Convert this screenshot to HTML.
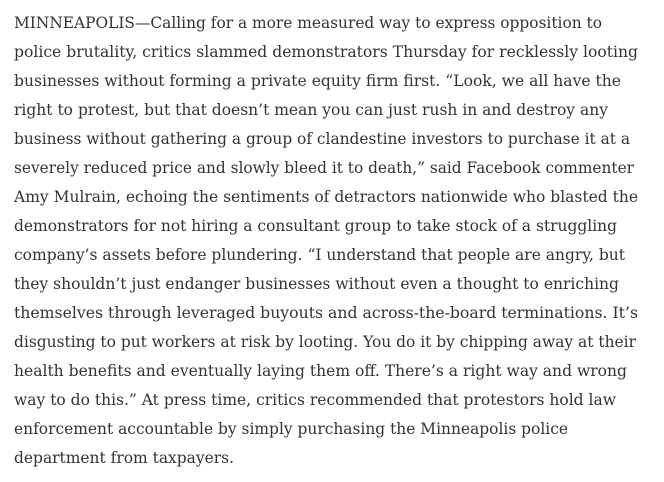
<!DOCTYPE html>
<html>
<head>
<meta charset="utf-8">
<style>
html,body{margin:0;padding:0;background:#fff;width:664px;height:482px;overflow:hidden}
svg{display:block}
text{font-family:"DejaVu Serif","Liberation Serif",serif;font-size:16px;fill:#333}
</style>
</head>
<body>
<svg width="664" height="482">
<text x="14" y="28" textLength="588" lengthAdjust="spacingAndGlyphs">MINNEAPOLIS—Calling for a more measured way to express opposition to</text>
<text x="14" y="57" textLength="624" lengthAdjust="spacingAndGlyphs">police brutality, critics slammed demonstrators Thursday for recklessly looting</text>
<text x="14" y="86" textLength="607" lengthAdjust="spacingAndGlyphs">businesses without forming a private equity firm first. “Look, we all have the</text>
<text x="14" y="115" textLength="594" lengthAdjust="spacingAndGlyphs">right to protest, but that doesn’t mean you can just rush in and destroy any</text>
<text x="14" y="144" textLength="616" lengthAdjust="spacingAndGlyphs">business without gathering a group of clandestine investors to purchase it at a</text>
<text x="14" y="173" textLength="620" lengthAdjust="spacingAndGlyphs">severely reduced price and slowly bleed it to death,” said Facebook commenter</text>
<text x="14" y="202" textLength="624" lengthAdjust="spacingAndGlyphs">Amy Mulrain, echoing the sentiments of detractors nationwide who blasted the</text>
<text x="14" y="231" textLength="603" lengthAdjust="spacingAndGlyphs">demonstrators for not hiring a consultant group to take stock of a struggling</text>
<text x="14" y="260" textLength="611" lengthAdjust="spacingAndGlyphs">company’s assets before plundering. “I understand that people are angry, but</text>
<text x="14" y="289" textLength="605" lengthAdjust="spacingAndGlyphs">they shouldn’t just endanger businesses without even a thought to enriching</text>
<text x="14" y="318" textLength="624" lengthAdjust="spacingAndGlyphs">themselves through leveraged buyouts and across-the-board terminations. It’s</text>
<text x="14" y="347" textLength="622" lengthAdjust="spacingAndGlyphs">disgusting to put workers at risk by looting. You do it by chipping away at their</text>
<text x="14" y="376" textLength="613" lengthAdjust="spacingAndGlyphs">health benefits and eventually laying them off. There’s a right way and wrong</text>
<text x="14" y="405" textLength="602" lengthAdjust="spacingAndGlyphs">way to do this.” At press time, critics recommended that protestors hold law</text>
<text x="14" y="434" textLength="554" lengthAdjust="spacingAndGlyphs">enforcement accountable by simply purchasing the Minneapolis police</text>
<text x="14" y="463" textLength="220" lengthAdjust="spacingAndGlyphs">department from taxpayers.</text>
</svg>
</body>
</html>
